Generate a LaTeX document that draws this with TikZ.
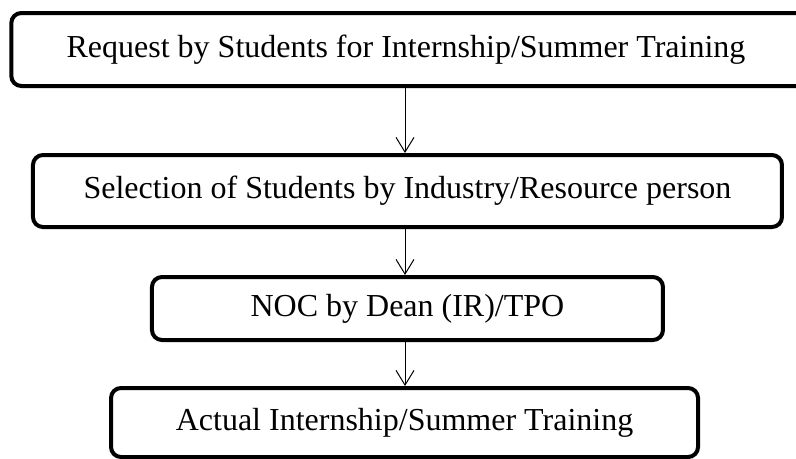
\documentclass[tikz,border=0pt]{standalone}
\usepackage{fontspec}
\setmainfont{Liberation Serif}
\usetikzlibrary{arrows.meta, positioning}

\begin{document}
\begin{tikzpicture}[x=0.75pt, y=-0.75pt,
    stepbox/.style={rectangle, draw, line width=3pt, rounded corners=7.5pt, inner sep=0pt, font=\fontsize{24}{28}\selectfont},
    flow/.style={-{Straight Barb[length=11pt, width=13.5pt]}, line width=0.75pt}]
    \useasboundingbox (0,0) rectangle (796,458);
    \clip (0,0) rectangle (796,458);

    % Request
    \node[stepbox, minimum width=598pt, minimum height=54.75pt] (request) at (410,49.5) {\hspace*{-6pt}Request by Students for Internship/Summer Training};

    % Selection
    \node[stepbox, minimum width=561.75pt, minimum height=54pt, below=48.75pt of request, xshift=-1.9pt] (selection) {Selection of Students by Industry/Resource person};

    % NOC
    \node[stepbox, minimum width=383.25pt, minimum height=47.25pt, below=34.5pt of selection] (noc) {NOC by Dean (IR)/TPO};

    % Actual training
    \node[stepbox, minimum width=440.25pt, minimum height=51.75pt, below=33pt of noc, xshift=-2.2pt] (actual) {Actual Internship/Summer Training};

    \coordinate (axis) at (405,0);
    \draw[flow] (request.south -| axis) -- (selection.north -| axis);
    \draw[flow] (selection.south -| axis) -- (noc.north -| axis);
    \draw[flow] (noc.south -| axis) -- (actual.north -| axis);
\end{tikzpicture}
\end{document}
